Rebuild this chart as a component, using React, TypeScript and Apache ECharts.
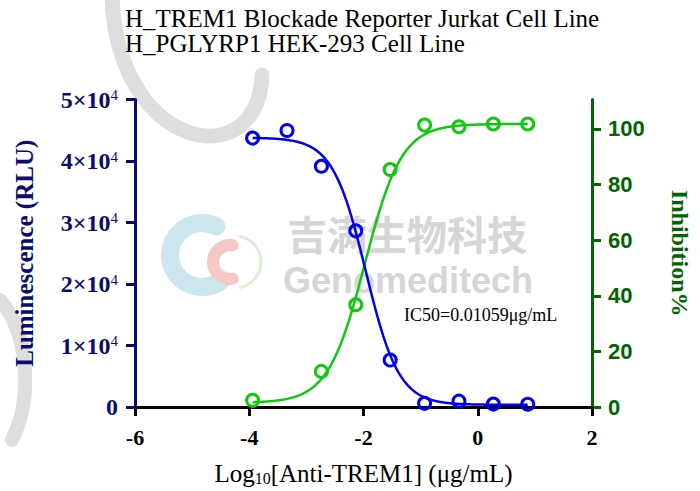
import React, { useEffect, useRef } from 'react';
import * as echarts from 'echarts';

// ---------- data ----------
const titleLines = ['H_TREM1 Blockade Reporter Jurkat Cell Line', 'H_PGLYRP1 HEK-293 Cell Line'];
const xAxisTitle = 'Log10[Anti-TREM1] (μg/mL)';
const leftAxisTitle = 'Luminescence (RLU)';
const rightAxisTitle = 'Inhibition%';
const ic50Label = 'IC50=0.01059μg/mL';
const watermarkCn = '吉满生物科技';
const watermarkEn = 'Genomeditech';

// log10 concentration (μg/mL) for the luminescence points
const lumLogConc = [-3.941, -3.339, -2.737, -2.135, -1.533, -0.931, -0.329, 0.273, 0.875];
const luminescence = [43730, 44960, 39140, 28640, 7640, 600, 950, 480, 450];

// log10 concentration for the inhibition points
const inhLogConc = [-3.941, -2.737, -2.135, -1.533, -0.931, -0.329, 0.273, 0.875];
const inhibition = [2.4, 12.8, 36.8, 85.4, 101.4, 100.8, 101.8, 101.8];

// fitted 4-parameter logistic curves (as drawn in the reference)
const lumFit = { bottom: 350, top: 43800, logIC50: -1.96, hill: 1.5 };
const inhFit = { bottom: 1.5, top: 101.8, logIC50: -1.975, hill: 1.35 };

const xTicks = [-6, -4, -2, 0, 2];
const leftTicks = [0, 10000, 20000, 30000, 40000, 50000];
const rightTicks = [0, 20, 40, 60, 80, 100];

// ---------- styles ----------
const SERIF = '"Liberation Serif", "Times New Roman", serif';
const SANS = '"Liberation Sans", Arial, sans-serif';
const NAVY = '#0c0c6c';
const DKGREEN = '#006400';
const BLUE = '#0000f0';
const GREEN = '#10c810';
const WM_GRAY = '#dedede';

function fitCurve(fit: { bottom: number; top: number; logIC50: number; hill: number }, x0: number, x1: number, decreasing: boolean) {
  const pts: number[][] = [];
  const n = 240;
  for (let i = 0; i <= n; i++) {
    const x = x0 + ((x1 - x0) * i) / n;
    const e = decreasing ? (x - fit.logIC50) * fit.hill : (fit.logIC50 - x) * fit.hill;
    pts.push([x, fit.bottom + (fit.top - fit.bottom) / (1 + Math.pow(10, e))]);
  }
  return pts;
}

export default function App() {
  const ref = useRef<HTMLDivElement>(null);
  useEffect(() => {
    const chart = echarts.init(ref.current as HTMLDivElement, null, { renderer: 'svg' });
    const lumCurve = fitCurve(lumFit, lumLogConc[0], lumLogConc[lumLogConc.length - 1], true);
    const inhCurve = fitCurve(inhFit, inhLogConc[0], inhLogConc[inhLogConc.length - 1], false);
    const xName = xAxisTitle.replace('Log10', '{a|Log}{s|10}{a|').concat('}');

    chart.setOption({
      animation: false,
      backgroundColor: '#ffffff',
      title: {
        text: titleLines.join('\n'),
        left: 125,
        top: 6,
        padding: 0,
        textStyle: { fontFamily: SERIF, fontSize: 25, fontWeight: 'normal', color: '#000', lineHeight: 25 },
      },
      grid: { left: 135, right: 102, top: 99.5, bottom: 82, containLabel: false },
      xAxis: {
        type: 'value',
        min: xTicks[0],
        max: xTicks[xTicks.length - 1],
        interval: 2,
        splitLine: { show: false },
        axisLine: { show: true, onZero: false, lineStyle: { color: '#000', width: 3 } },
        axisTick: { show: true, length: 9, lineStyle: { color: '#000', width: 3 } },
        axisLabel: { fontFamily: SERIF, fontWeight: 'bold', fontSize: 22, color: '#000', margin: 19 },
        name: xName,
        nameLocation: 'middle',
        nameGap: 53,
        nameTextStyle: {
          color: '#000',
          fontFamily: SERIF,
          fontSize: 25,
          rich: {
            a: { fontFamily: SERIF, fontSize: 25, color: '#000', lineHeight: 26 },
            s: { fontFamily: SERIF, fontSize: 16, color: '#000', lineHeight: 16, verticalAlign: 'bottom' },
          },
        },
      },
      yAxis: [
        {
          type: 'value',
          position: 'left',
          min: leftTicks[0],
          max: leftTicks[leftTicks.length - 1],
          interval: 10000,
          splitLine: { show: false },
          axisLine: { show: true, onZero: false, lineStyle: { color: NAVY, width: 3 } },
          axisTick: { show: true, length: 9, lineStyle: { color: NAVY, width: 3 } },
          axisLabel: {
            margin: 17,
            formatter: (v: number) => (v === 0 ? '{b|0}' : `{b|${v / 10000}×10}{p|4}`),
            rich: {
              b: { fontFamily: SERIF, fontWeight: 'bold', fontSize: 24, color: NAVY, lineHeight: 24 },
              p: { fontFamily: SERIF, fontSize: 15, color: NAVY, lineHeight: 15, verticalAlign: 'top' },
            },
          },
          name: leftAxisTitle,
          nameLocation: 'middle',
          nameGap: 98,
          nameTextStyle: { fontFamily: SERIF, fontWeight: 'bold', fontSize: 25, color: NAVY },
        },
        {
          type: 'value',
          position: 'right',
          min: 0,
          max: 110.6,
          interval: 20,
          splitLine: { show: false },
          axisLine: { show: true, onZero: false, lineStyle: { color: DKGREEN, width: 3 } },
          axisTick: { show: true, length: 9, customValues: rightTicks, lineStyle: { color: DKGREEN, width: 3 } },
          axisLabel: {
            customValues: rightTicks,
            margin: 16,
            fontFamily: SANS,
            fontWeight: 'bold',
            fontSize: 22,
            color: DKGREEN,
          },
          name: rightAxisTitle,
          nameLocation: 'middle',
          nameRotate: -90,
          nameGap: 76,
          nameTextStyle: { fontFamily: SERIF, fontWeight: 'bold', fontSize: 24, color: DKGREEN },
        },
      ],
      graphic: [
        // large faint background strokes
        { type: 'bezierCurve', z: -20, shape: { x1: 112, y1: -5, cpx1: 116, cpy1: 150, cpx2: 258, cpy2: 178, x2: 262, y2: 75 }, style: { stroke: WM_GRAY, lineWidth: 15, fill: 'none', lineCap: 'round' } },
        { type: 'bezierCurve', z: -20, shape: { x1: 0, y1: 300, cpx1: 30, cpy1: 335, cpx2: 32, cpy2: 400, x2: 12, y2: 440 }, style: { stroke: WM_GRAY, lineWidth: 14, fill: 'none', lineCap: 'round' } },
        // logo watermark
        { type: 'arc', z: -10, shape: { cx: 202, cy: 255, r: 32, startAngle: Math.PI * 0.3, endAngle: Math.PI * 1.65 }, style: { stroke: '#cbe6ef', lineWidth: 18, fill: 'none', lineCap: 'round' } },
        { type: 'arc', z: -9, shape: { cx: 230, cy: 262, r: 17, startAngle: Math.PI * 0.45, endAngle: Math.PI * 1.55 }, style: { stroke: '#f5c8c8', lineWidth: 12, fill: 'none', lineCap: 'round' } },
        { type: 'arc', z: -9, shape: { cx: 235, cy: 262, r: 26, startAngle: -Math.PI * 0.45, endAngle: Math.PI * 0.45 }, style: { stroke: '#dcefd2', lineWidth: 3, fill: 'none' } },
        { type: 'text', z: -8, x: 287, y: 233, style: { text: watermarkCn, font: 'bold 40px "Noto Sans CJK SC", sans-serif', fill: '#d6d6d6', verticalAlign: 'middle' } },
        { type: 'text', z: -8, x: 283, y: 280, style: { text: watermarkEn, font: 'bold 36px "Liberation Sans", Arial, sans-serif', fill: '#d6d6d6', verticalAlign: 'middle' } },
        // IC50 annotation
        { type: 'text', z: 10, x: 404, y: 315, style: { text: ic50Label, font: '18px "Liberation Serif", serif', fill: '#000', verticalAlign: 'middle' } },
      ],
      series: [
        {
          type: 'line', yAxisIndex: 1, data: inhCurve, showSymbol: false, silent: true, z: 2,
          lineStyle: { color: GREEN, width: 2.5 },
        },
        {
          type: 'scatter', yAxisIndex: 1, z: 3,
          data: inhLogConc.map((x, i) => [x, inhibition[i]]),
          symbol: 'circle', symbolSize: 12,
          itemStyle: { color: 'rgba(0,0,0,0)', borderColor: GREEN, borderWidth: 3, opacity: 1 },
        },
        {
          type: 'line', yAxisIndex: 0, data: lumCurve, showSymbol: false, silent: true, z: 4,
          lineStyle: { color: BLUE, width: 2.5 },
        },
        {
          type: 'scatter', yAxisIndex: 0, z: 5,
          data: lumLogConc.map((x, i) => [x, luminescence[i]]),
          symbol: 'circle', symbolSize: 12,
          itemStyle: { color: 'rgba(0,0,0,0)', borderColor: BLUE, borderWidth: 3, opacity: 1 },
        },
      ],
    });
    return () => chart.dispose();
  }, []);
  return (
    <div
      ref={ref}
      style={{ position: 'fixed', left: 0, top: 0, width: 700, height: 491, background: '#fff' }}
    />
  );
}
